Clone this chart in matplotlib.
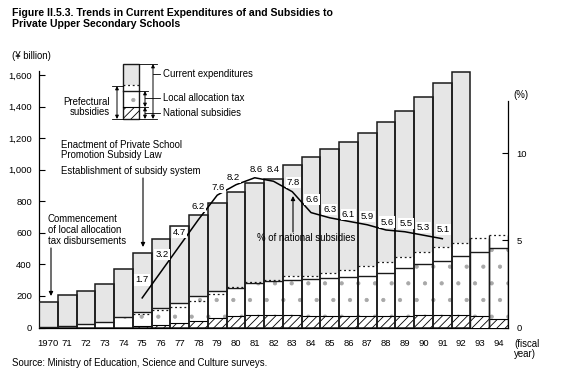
import matplotlib
matplotlib.use("Agg")
import matplotlib.pyplot as plt
from matplotlib.patches import Rectangle

plt.rcParams['font.family'] = ['Liberation Sans', 'DejaVu Sans']
plt.rcParams['hatch.linewidth'] = 0.6

# ---------------- data (¥ billion) ----------------
years = list(range(1970, 1995))
year_labels = ['1970'] + [str(y)[2:] for y in range(1971, 1995)]
# current expenditures (not available for 1993, 1994)
current_exp = [160, 204, 229, 276, 373, 474, 563, 641, 713, 787, 861, 914, 939,
               1030, 1082, 1131, 1177, 1234, 1304, 1372, 1463, 1551, 1621, None, None]
# national subsidies
national = [0, 0, 0, 0, 0, 8, 18, 30, 44, 60, 71, 79, 79,
            80, 71, 71, 72, 73, 73, 75, 78, 79, 80, 76, 57]
# local allocation tax
local_alloc = [3, 10, 20, 33, 65, 88, 106, 123, 154, 169, 181, 201, 218,
               221, 234, 241, 250, 253, 274, 300, 322, 344, 374, 400, 447]
# prefectural subsidies (total, incl. national)
prefectural = [None, None, None, None, None, 83, 108, 132, 166, 212, 259, 288, 300,
               326, 328, 347, 364, 392, 417, 445, 476, 507, 538, 564, 584]
# % of national subsidies
pct_years = list(range(1975, 1992))
pct_national = [1.7, 3.2, 4.7, 6.2, 7.6, 8.2, 8.6, 8.4, 7.8, 6.6, 6.3, 6.1, 5.9,
                5.6, 5.5, 5.3, 5.1]
pct_label_offsets = [(0, 18), (1, 17), (0, 13), (0, 13), (1, 8), (-3, 7), (1, 8),
                     (0, 12), (1, 9), (1, 13), (0, 8), (0, 7), (0, 8), (1, 8),
                     (1, 8), (0, 8), (1, 9)]

W, H = 563, 387
fig = plt.figure(figsize=(W / 100, H / 100), dpi=100)
ax_l, ax_r, ax_t, ax_b = 39, 508, 71, 327.5
ax = fig.add_axes([ax_l / W, 1 - ax_b / H, (ax_r - ax_l) / W, (ax_b - ax_t) / H])

STIPPLE = '#e6e6e6'
DOTS = '#a8a8a8'
EDGE = '#1a1a1a'
bw = 1.0
for i, yr in enumerate(years):
    tot = current_exp[i]
    nat = national[i]
    top_local = nat + local_alloc[i]
    pref = prefectural[i]
    upper = max(top_local, pref if pref is not None else 0)
    if tot is not None:
        ax.bar(yr, tot, width=bw, color=STIPPLE, linewidth=0, zorder=1)
    ax.bar(yr, upper, width=bw, color='white', linewidth=0, zorder=2)
    ax.bar(yr, local_alloc[i], bottom=nat, width=bw, facecolor='white',
           edgecolor=DOTS, hatch='.', linewidth=0, zorder=3)
    if nat > 0:
        ax.bar(yr, nat, width=bw, facecolor='white', edgecolor='black',
               hatch='////', linewidth=0, zorder=4)
        ax.hlines(nat, yr - bw / 2, yr + bw / 2, color='black', lw=0.8, zorder=5)
    ax.hlines(top_local, yr - bw / 2, yr + bw / 2, color=EDGE, lw=1.0, zorder=5)
    if pref is not None:
        ax.hlines(pref, yr - bw / 2, yr + bw / 2, color=EDGE, lw=0.9,
                  linestyles=(0, (1.5, 2.2)), zorder=5)
    if tot is not None:
        ax.bar(yr, tot, width=bw, fill=False, edgecolor=EDGE, linewidth=1.1, zorder=6)
    else:
        ax.vlines([yr - bw / 2, yr + bw / 2], 0, pref, color=EDGE, lw=1.0, zorder=6)

ax.set_xlim(1969.5, 1994.5)
ax.set_ylim(0, 1625)
ax.set_xticks(years)
ax.set_xticklabels(year_labels)
ax.set_yticks([0, 200, 400, 600, 800, 1000, 1200, 1400, 1600])
ax.set_yticklabels(['0', '200', '400', '600', '800', '1,000', '1,200', '1,400', '1,600'])
ax.tick_params(axis='y', direction='in', length=4, width=0.8, pad=5, labelsize=6.8)
ax.tick_params(axis='x', length=0, pad=8, labelsize=6.8)
ax.spines['top'].set_visible(False)
ax.spines['right'].set_visible(False)
for s in ['left', 'bottom']:
    ax.spines[s].set_linewidth(0.9)
ax.patch.set_alpha(0)

ax2 = ax.twinx()
ax2.set_ylim(0, 1625 / 110.3)
ax2.plot(pct_years, pct_national, color='black', lw=1.1, zorder=10)
for yv, pv, (dx, dy) in zip(pct_years, pct_national, pct_label_offsets):
    ax2.annotate(f'{pv:.1f}', xy=(yv, pv), xytext=(dx, dy), textcoords='offset pixels',
                 ha='center', va='center', fontsize=6.8, zorder=11,
                 bbox=dict(boxstyle='square,pad=0.12', fc='white', ec='none'))
ax2.set_yticks([0, 5, 10])
ax2.tick_params(axis='y', direction='in', length=4, width=0.8, pad=6, labelsize=6.8)
ax2.spines['top'].set_visible(False)
ax2.spines['left'].set_visible(False)
ax2.spines['bottom'].set_visible(False)
ax2.spines['right'].set_bounds(0, 13)
ax2.spines['right'].set_linewidth(0.9)

# ---------------- overlay in pixel coordinates ----------------
ov = fig.add_axes([0, 0, 1, 1])
ov.set_xlim(0, W)
ov.set_ylim(H, 0)
ov.axis('off')
ov.patch.set_alpha(0)

FS = 6.9
ov.text(12, 8, 'Figure II.5.3. Trends in Current Expenditures of and Subsidies to\n'
        'Private Upper Secondary Schools', fontsize=7.6, fontweight='bold',
        va='top', ha='left', linespacing=1.15)
ov.text(12, 56, '(¥ billion)', fontsize=FS, va='center', ha='left')
ov.text(513, 95, '(%)', fontsize=FS, va='center', ha='left')
ov.text(514, 349, '(fiscal\nyear)', fontsize=FS, va='center', ha='left', linespacing=1.05)
ov.text(12, 363, 'Source: Ministry of Education, Science and Culture surveys.',
        fontsize=FS, va='center', ha='left')

# legend mini-bar
lx0, lx1 = 123, 139
ly_top, ly_dash, ly_solid, ly_hatch, ly_bot = 64, 85, 91, 107, 119
ov.add_patch(Rectangle((lx0, ly_top), lx1 - lx0, ly_dash - ly_top, facecolor=STIPPLE, lw=0))
ov.add_patch(Rectangle((lx0, ly_solid), lx1 - lx0, ly_hatch - ly_solid, facecolor='white',
                       edgecolor=DOTS, hatch='.', lw=0))
ov.add_patch(Rectangle((lx0, ly_hatch), lx1 - lx0, ly_bot - ly_hatch, facecolor='white',
                       edgecolor='black', hatch='////', lw=0))
ov.add_patch(Rectangle((lx0, ly_top), lx1 - lx0, ly_bot - ly_top, fill=False,
                       edgecolor=EDGE, lw=1.0))
ov.plot([lx0, lx1], [ly_solid, ly_solid], color=EDGE, lw=1.0)
ov.plot([lx0, lx1], [ly_hatch, ly_hatch], color='black', lw=0.8)
ov.plot([lx0, lx1], [ly_dash, ly_dash], color=EDGE, lw=0.9, ls=(0, (1.5, 2.2)))

arw = dict(arrowstyle='<|-|>', lw=0.7, color='black', mutation_scale=5,
           shrinkA=0, shrinkB=0)
one = dict(arrowstyle='-|>', lw=0.8, color='black', mutation_scale=6,
           shrinkA=0, shrinkB=0)
# current expenditures bracket
ov.plot([lx1, 157], [ly_top, ly_top], color='black', lw=0.6)
ov.plot([lx1, 157], [ly_bot, ly_bot], color='black', lw=0.6)
ov.annotate('', xy=(153, ly_top), xytext=(153, ly_bot), arrowprops=arw)
ov.plot([153, 160], [74, 74], color='black', lw=0.6)
ov.text(163, 74, 'Current expenditures', fontsize=FS, va='center', ha='left')
# local allocation / national
ov.plot([lx1, 148], [ly_solid, ly_solid], color='black', lw=0.6)
ov.plot([lx1, 148], [ly_hatch, ly_hatch], color='black', lw=0.6)
ov.annotate('', xy=(145, ly_solid), xytext=(145, ly_hatch), arrowprops=arw)
ov.annotate('', xy=(145, ly_hatch), xytext=(145, ly_bot), arrowprops=arw)
ov.plot([145, 160], [98, 98], color='black', lw=0.6)
ov.plot([145, 160], [113, 113], color='black', lw=0.6)
ov.text(163, 98, 'Local allocation tax', fontsize=FS, va='center', ha='left')
ov.text(163, 113, 'National subsidies', fontsize=FS, va='center', ha='left')
# prefectural subsidies
ov.plot([112, lx0], [ly_dash + 1, ly_dash + 1], color='black', lw=0.6)
ov.plot([112, lx0], [ly_bot, ly_bot], color='black', lw=0.6)
ov.annotate('', xy=(117, ly_dash + 1), xytext=(117, ly_bot), arrowprops=arw)
ov.text(110, 107, 'Prefectural\nsubsidies', fontsize=FS, va='center', ha='right',
        multialignment='right', linespacing=1.1)

# event annotations
ov.text(61, 150, 'Enactment of Private School\nPromotion Subsidy Law', fontsize=FS,
        va='center', ha='left', linespacing=1.1)
ov.text(61, 171, 'Establishment of subsidy system', fontsize=FS, va='center', ha='left')
ov.annotate('', xy=(143, 247), xytext=(143, 178), arrowprops=one)
ov.text(48, 230, 'Commencement\nof local allocation\ntax disbursements', fontsize=FS,
        va='center', ha='left', linespacing=1.1)
ov.annotate('', xy=(51, 296), xytext=(51, 248), arrowprops=one)
ov.text(257, 238, '% of national subsidies', fontsize=FS, va='center', ha='left')
ov.annotate('', xy=(293, 196), xytext=(293, 232), arrowprops=one)

fig.savefig('out.png', dpi=100)
